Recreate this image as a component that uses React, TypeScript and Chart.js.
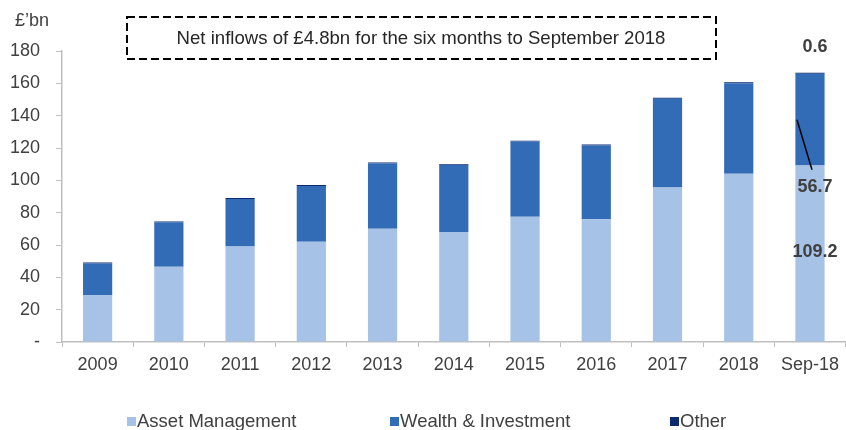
import React, { useEffect, useRef } from "react";
import { Chart, registerables } from "chart.js";

Chart.register(...registerables);

const categories = ["2009", "2010", "2011", "2012", "2013", "2014", "2015", "2016", "2017", "2018", "Sep-18"];
const assetManagement = [29, 46.5, 59, 62, 70, 68, 77.5, 76, 95.5, 104, 109.2];
const wealthInvestment = [19.5, 27.5, 29.5, 34.5, 40.5, 41.5, 46.5, 45.5, 55, 56, 56.7];
const other = [0.6, 0.5, 0.5, 0.6, 0.5, 0.5, 0.5, 0.6, 0.6, 0.6, 0.6];
const yTicks = [0, 20, 40, 60, 80, 100, 120, 140, 160, 180];
const seriesNames = ["Asset Management", "Wealth & Investment", "Other"];
const seriesColors = ["#A6C2E7", "#336CB6", "#0D2A6E"];
const titleText = "Net inflows of £4.8bn for the six months to September 2018";
const unitLabel = "£’bn";
const sepLabels = ["0.6", "56.7", "109.2"];

const FONT = "'Liberation Sans', Arial, sans-serif";
const TEXT = "#404040";

const overlayPlugin = {
  id: "overlay",
  afterDraw(chart: any) {
    const ctx = chart.ctx;
    const xs = chart.scales.x;
    const ys = chart.scales.y;
    ctx.save();
    // unit label
    ctx.fillStyle = TEXT;
    ctx.font = `18px ${FONT}`;
    ctx.textAlign = "left";
    ctx.textBaseline = "middle";
    ctx.fillText(unitLabel, 15, 21);
    // title box
    ctx.strokeStyle = "#000";
    ctx.lineWidth = 2;
    ctx.setLineDash([8, 4]);
    ctx.strokeRect(127, 17, 589, 42);
    ctx.setLineDash([]);
    ctx.fillStyle = "#262626";
    ctx.font = `18.6px ${FONT}`;
    ctx.textAlign = "center";
    ctx.fillText(titleText, 421, 39);
    // Sep-18 labels
    const last = categories.length - 1;
    const cx = xs.getPixelForValue(last);
    ctx.font = `bold 18px ${FONT}`;
    ctx.fillStyle = TEXT;
    ctx.textAlign = "center";
    ctx.fillText(sepLabels[0], cx + 5, 47);
    ctx.fillText(sepLabels[1], cx + 5, ys.getPixelForValue(96));
    ctx.fillText(sepLabels[2], cx + 5, ys.getPixelForValue(55.4));
    // leader line
    ctx.strokeStyle = "#000";
    ctx.lineWidth = 1.5;
    ctx.beginPath();
    ctx.moveTo(cx - 13, ys.getPixelForValue(137.5));
    ctx.lineTo(cx + 2, ys.getPixelForValue(106.5));
    ctx.stroke();
    // legend
    const legendX = [127, 390, 670];
    ctx.font = `18.5px ${FONT}`;
    ctx.textAlign = "left";
    for (let i = 0; i < 3; i++) {
      ctx.fillStyle = seriesColors[i];
      ctx.fillRect(legendX[i], 417, 9, 9);
      ctx.fillStyle = TEXT;
      ctx.fillText(seriesNames[i], legendX[i] + 10, 422);
    }
    ctx.restore();
  },
};

export default function App() {
  const ref = useRef<HTMLCanvasElement | null>(null);
  useEffect(() => {
    if (!ref.current) return;
    const chart = new Chart(ref.current, {
      type: "bar",
      data: {
        labels: categories,
        datasets: [
          { label: seriesNames[0], data: assetManagement, backgroundColor: seriesColors[0] },
          { label: seriesNames[1], data: wealthInvestment, backgroundColor: seriesColors[1] },
          { label: seriesNames[2], data: other, backgroundColor: seriesColors[2] },
        ],
      },
      options: {
        animation: false,
        responsive: false,
        maintainAspectRatio: false,
        layout: { padding: { top: 51, left: 0, right: 0, bottom: 0 } },
        datasets: { bar: { barPercentage: 0.41, categoryPercentage: 1 } },
        plugins: { legend: { display: false }, tooltip: { enabled: false }, title: { display: false } },
        scales: {
          x: {
            stacked: true,
            afterFit(scale: any) {
              scale.height = 88;
            },
            grid: { display: true, drawOnChartArea: false, drawTicks: true, tickLength: 5, color: "#BFBFBF", offset: true },
            border: { display: true, color: "#BFBFBF", width: 1.5 },
            ticks: { color: TEXT, font: { family: FONT, size: 18 }, padding: 7, maxRotation: 0, autoSkip: false },
          },
          y: {
            stacked: true,
            min: 0,
            max: 180,
            afterFit(scale: any) {
              scale.width = 62;
            },
            afterBuildTicks(scale: any) {
              scale.ticks = yTicks.map((v) => ({ value: v }));
            },
            grid: { display: true, drawOnChartArea: false, drawTicks: true, tickLength: 6, color: "#BFBFBF" },
            border: { display: true, color: "#BFBFBF", width: 1.5 },
            ticks: {
              color: TEXT,
              font: { family: FONT, size: 18 },
              padding: 16,
              callback: (v: any) => (Number(v) === 0 ? "-" : String(v)),
            },
          },
        },
      },
      plugins: [overlayPlugin],
    });
    return () => chart.destroy();
  }, []);
  return (
    <div style={{ position: "absolute", left: 0, top: 0, width: 846, height: 430, background: "#fff" }}>
      <canvas ref={ref} width={846} height={430} style={{ width: 846, height: 430 }} />
    </div>
  );
}
